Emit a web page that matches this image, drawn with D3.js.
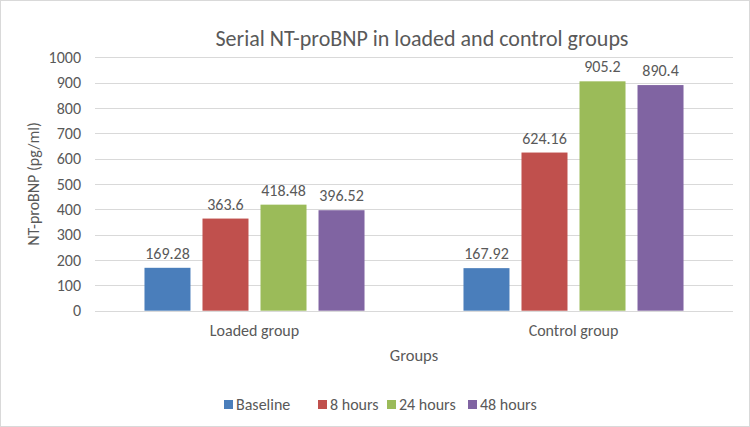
<!DOCTYPE html>
<html><head><meta charset="utf-8">
<script src="https://cdn.jsdelivr.net/npm/d3@7"></script>
<style>
body{margin:0;background:#fff;}
text{font-family:Carlito,Calibri,"Liberation Sans",Arial,sans-serif;fill:#595959;}
</style></head>
<body><svg id="c" width="750" height="427"></svg>
<script>
const groups = ["Loaded group", "Control group"];
const seriesNames = ["Baseline", "8 hours", "24 hours", "48 hours"];
const loadedValues = [169.28, 363.6, 418.48, 396.52];
const controlValues = [167.92, 624.16, 905.2, 890.4];
const valueLabels = [["169.28","363.6","418.48","396.52"],["167.92","624.16","905.2","890.4"]];
const yTicks = [0,100,200,300,400,500,600,700,800,900,1000];
const colors = ["#4a7ebb", "#c0504d", "#9bbb59", "#8064a2"];

const FF = "Carlito,Calibri,'Liberation Sans',Arial,sans-serif";
const svg = d3.select("#c");
svg.append("rect").attr("x",0.5).attr("y",0.5).attr("width",749).attr("height",426)
  .attr("fill","#fff").attr("stroke","#d9d9d9");

const L = 95, R = 733, T = 57.3, B = 310.7;
const y = d3.scaleLinear().domain([0,1000]).range([B,T]);
const x0 = d3.scaleBand().domain(groups).range([L,R]).padding(0);
const x1 = d3.scaleBand().domain(seriesNames).range([0,x0.bandwidth()])
  .paddingInner(0.207).paddingOuter(0.853);

svg.append("g").selectAll("line").data(yTicks).join("line")
  .attr("x1",L).attr("x2",R).attr("y1",d=>Math.round(y(d))+0.5).attr("y2",d=>Math.round(y(d))+0.5)
  .attr("stroke","#d9d9d9").attr("stroke-width",1);

const yAxis = d3.axisLeft(y).tickValues(yTicks).tickSize(0).tickPadding(0).tickFormat(d3.format("d"));
const ya = svg.append("g").attr("transform",`translate(${L-14},0)`).call(yAxis);
ya.select(".domain").remove();
ya.selectAll("text").attr("font-size",16).style("font-family",FF).attr("fill","#595959");

const xa = svg.append("g").attr("transform",`translate(0,${B})`).call(d3.axisBottom(x0).tickSize(0).tickPadding(14));
xa.select(".domain").remove();
xa.selectAll("text").attr("font-size",16).style("font-family",FF).attr("fill","#595959");

const data = [loadedValues, controlValues];
const gg = svg.append("g").selectAll("g").data(groups).join("g")
  .attr("transform",d=>`translate(${x0(d)},0)`);
gg.each(function(g,gi){
  const sel = d3.select(this);
  sel.selectAll("rect").data(seriesNames).join("rect")
    .attr("x",s=>x1(s)).attr("width",x1.bandwidth())
    .attr("y",(s,i)=>y(data[gi][i])).attr("height",(s,i)=>B-y(data[gi][i]))
    .attr("fill",(s,i)=>colors[i]);
  sel.selectAll("text.v").data(seriesNames).join("text").attr("class","v")
    .attr("x",s=>x1(s)+x1.bandwidth()/2).attr("y",(s,i)=>y(data[gi][i])-9)
    .attr("text-anchor","middle").attr("font-size",16)
    .text((s,i)=>valueLabels[gi][i]);
});

svg.append("text").attr("x",422).attr("y",46).attr("text-anchor","middle")
  .attr("font-size",22).text("Serial NT-proBNP in loaded and control groups");
svg.append("text").attr("transform","translate(39,184) rotate(-90)").attr("text-anchor","middle")
  .attr("font-size",16).text("NT-proBNP (pg/ml)");
svg.append("text").attr("x",414).attr("y",361).attr("text-anchor","middle")
  .attr("font-size",16.5).text("Groups");

const legX = [224, 318, 387, 468];
const lg = svg.append("g").selectAll("g").data(seriesNames).join("g")
  .attr("transform",(d,i)=>`translate(${legX[i]},400)`);
lg.append("rect").attr("x",0).attr("y",0).attr("width",9).attr("height",9).attr("fill",(d,i)=>colors[i]);
lg.append("text").attr("x",12).attr("y",10).attr("font-size",16).text(d=>d);
</script></body></html>
